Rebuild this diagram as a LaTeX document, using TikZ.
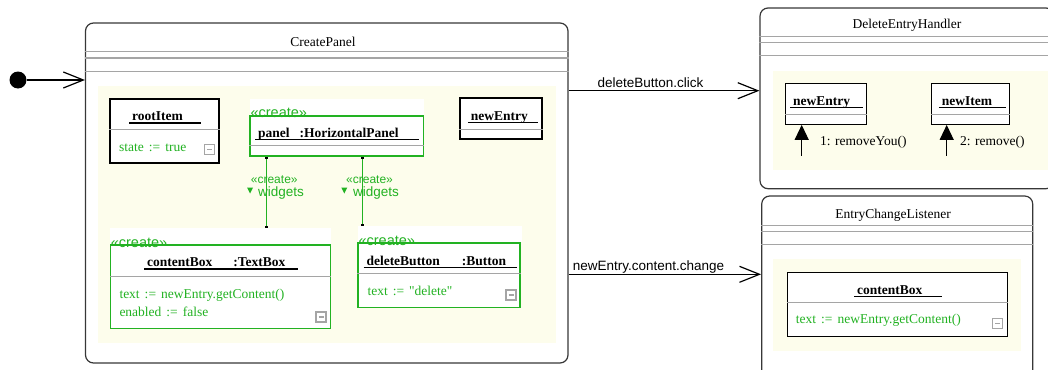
\documentclass[tikz,border=0pt]{standalone}
\usepackage{fontspec}
\setmainfont{Liberation Serif}
\setsansfont{Liberation Sans}
\usetikzlibrary{arrows.meta,calc}
\definecolor{umlgreen}{RGB}{34,178,34}
\definecolor{regionfill}{RGB}{253,253,236}
\definecolor{compgray}{RGB}{165,165,165}
\definecolor{framegray}{RGB}{55,55,55}
\newcommand{\objname}[2]{\rlap{\rule[-3pt]{#2}{1.3pt}}\hspace{3pt}\textbf{#1}}
\newcommand{\assign}{\hspace{5pt}:=\hspace{5pt}}
\tikzset{
  statebox/.style={draw=framegray, line width=1.2pt, rounded corners=8pt, inner sep=0pt},
  compline/.style={draw=compgray, line width=1pt},
  objbox/.style={draw=black, fill=white, line width=1.2pt, inner sep=0pt},
  newobj/.style={draw=umlgreen, fill=white, line width=1.2pt, inner sep=0pt},
  headbg/.style={fill=white, inner sep=0pt, anchor=south west, minimum height=16.5pt},
  statename/.style={font=\fontsize{13.5}{16}\selectfont, inner sep=0pt, anchor=base},
  objtitle/.style={font=\fontsize{13.5}{16}\selectfont, inner sep=0pt, anchor=base west},
  attr/.style={font=\fontsize{13.5}{16}\selectfont, text=umlgreen, inner sep=0pt, anchor=base west},
  stereo/.style={font=\sffamily\fontsize{14.5}{16}\selectfont, text=umlgreen, inner sep=0pt, anchor=base west},
  linkstereo/.style={font=\sffamily\fontsize{12}{14}\selectfont, text=umlgreen, inner sep=0pt, anchor=base west},
  rolename/.style={font=\sffamily\fontsize{13.5}{16}\selectfont, text=umlgreen, inner sep=0pt, anchor=base west},
  event/.style={font=\sffamily\fontsize{13.5}{16}\selectfont, inner sep=0pt, anchor=base west},
  msg/.style={font=\fontsize{13.5}{16}\selectfont, inner sep=0pt, anchor=base west},
  transition/.style={-{Straight Barb[length=20pt,width=16pt]}, line width=1.2pt},
  link/.style={draw=umlgreen, line width=1.5pt, {Square[length=2pt,width=3.5pt,black]}-{Square[length=2pt,width=3.5pt,black]}},
  call/.style={-{Triangle[length=15pt,width=14pt]}, line width=1.2pt},
  fold/.pic={
    \draw[compgray, line width=1.5pt] (-5,-5) rectangle (5,5);
    \draw[compgray, line width=1.5pt] (-2.5,0) -- (2.5,0);
  }
}
\begin{document}
\begin{tikzpicture}[x=1pt,y=-1pt]
  \useasboundingbox (0,0) rectangle (1048,369);
  \clip (0,0) rectangle (1048,369);
  % states
  \node[statebox, minimum width=482.5pt, minimum height=340pt] (createpanel) at (326.75,193) {};
  \node[statebox, minimum width=294pt, minimum height=180.7pt] (deletehandler) at (907,98.35) {};
  \node[statebox, minimum width=271pt, minimum height=189pt] (changelistener) at (897.2,290.5) {};
  \node[statename] at (323,46) {CreatePanel};
  \node[statename] at (907,29) {DeleteEntryHandler};
  \node[statename] at (893,218) {EntryChangeListener};
  \foreach \y in {52,58,71}
    \draw[compline] (createpanel.west |- 0,\y) -- (createpanel.east |- 0,\y);
  \foreach \y in {37,43,56}
    \draw[compline] (deletehandler.west |- 0,\y) -- (deletehandler.east |- 0,\y);
  \foreach \y in {225.7,231.7,244.3}
    \draw[compline] (changelistener.west |- 0,\y) -- (changelistener.east |- 0,\y);
  % regions
  \fill[regionfill] (98,86) rectangle (556,343);
  \fill[regionfill] (773,70.7) rectangle (1050,169.7);
  \fill[regionfill] (773,259.3) rectangle (1020.7,351.3);
  % initial
  \node[circle, fill=black, inner sep=0pt, minimum size=17pt] (init) at (18,80) {};
  \draw[transition] (init) -- (createpanel.west |- init);

  % CreatePanel objects
  \node[objbox, minimum width=109pt, minimum height=64pt] (rootitem) at (164.5,131) {};
  \draw[compline] (rootitem.west |- 0,129) -- (rootitem.east |- 0,129);
  \node[objtitle] at (129,120.5) {\objname{rootItem}{72pt}};
  \node[attr] at (119,151) {state\assign true};
  \pic at (209.5,149.5) {fold};

  \node[newobj, minimum width=173.5pt, minimum height=40pt] (panel) at (336.75,136) {};
  \node[headbg, minimum width=174pt] (panelhead) at (panel.north west) {};
  \draw[compline] (panel.west |- 0,145.7) -- (panel.east |- 0,145.7);
  \node[stereo] at ($(panel.north west)+(1,2.5)$) {«create»};
  \node[objtitle] at (255,137) {\objname{panel\hspace{10pt}:HorizontalPanel}{164pt}};

  \node[objbox, minimum width=82pt, minimum height=41pt] (newentry) at (501,118.5) {};
  \draw[compline] (newentry.west |- 0,129) -- (newentry.east |- 0,129);
  \node[objtitle] at (467.7,120) {\objname{newEntry}{70pt}};

  \node[newobj, minimum width=220pt, minimum height=83.7pt] (contentbox) at (220.7,286.85) {};
  \node[headbg, minimum width=221pt] (cbhead) at (contentbox.north west) {};
  \draw[compline] (contentbox.west |- 0,276) -- (contentbox.east |- 0,276);
  \node[stereo] at ($(contentbox.north west)+(0.5,3.3)$) {«create»};
  \node[objtitle] at (144,266.7) {\objname{contentBox\hspace{21pt}:TextBox}{154pt}};
  \node[attr] at (119.3,298.3) {text\assign newEntry.getContent()};
  \node[attr] at (119.3,316.7) {enabled\assign false};
  \pic at (321,317) {fold};

  \node[newobj, minimum width=162pt, minimum height=64.7pt] (deletebutton) at (439,275.35) {};
  \node[headbg, minimum width=164pt] (dbhead) at (deletebutton.north west) {};
  \draw[compline] (deletebutton.west |- 0,273) -- (deletebutton.east |- 0,273);
  \node[stereo] at ($(deletebutton.north west)+(1,3.5)$) {«create»};
  \node[objtitle] at (363.3,265) {\objname{deleteButton\hspace{22pt}:Button}{153.4pt}};
  \node[attr] at (367.3,295) {\addfontfeature{Ligatures=TeXOff}text\assign "delete"};
  \pic at (511,295) {fold};

  % links
  \coordinate (w1) at (266.7,0);
  \coordinate (w2) at (362.3,0);
  \draw[link] (panel.south -| w1) -- (cbhead.north -| w1);
  \draw[link] (panel.south -| w2) -- (dbhead.north -| w2);
  \node[linkstereo] at (250.7,183.3) {«create»};
  \node[rolename] at (258,196.7) {widgets};
  \fill[umlgreen] (247,187.5) -- (253,187.5) -- (250,193.5) -- cycle;
  \node[linkstereo] at (346,183.3) {«create»};
  \node[rolename] at (353,196.7) {widgets};
  \fill[umlgreen] (341.3,187.5) -- (347.3,187.5) -- (344.3,193.5) -- cycle;

  % DeleteEntryHandler objects
  \node[objbox, minimum width=81pt, minimum height=41pt] (dehentry) at (826.2,103.8) {};
  \draw[compline] (dehentry.west |- 0,114.7) -- (dehentry.east |- 0,114.7);
  \node[objtitle] at (790,105) {\objname{newEntry}{72.7pt}};
  \node[objbox, minimum width=78pt, minimum height=41pt] (newitem) at (970.7,103.8) {};
  \draw[compline] (newitem.west |- 0,114.7) -- (newitem.east |- 0,114.7);
  \node[objtitle] at (938.7,105) {\objname{newItem}{67pt}};
  \coordinate (c1) at (801.7,155.7);
  \coordinate (c2) at (946.7,155.7);
  \draw[call] (c1) -- (dehentry.south -| c1);
  \draw[call] (c2) -- (newitem.south -| c2);
  \node[msg] at (820,145.5) {1: removeYou()};
  \node[msg] at (960,145.5) {2: remove()};

  % EntryChangeListener objects
  \node[objbox, minimum width=220pt, minimum height=63.6pt] (eclbox) at (897.3,304.5) {};
  \draw[compline] (eclbox.west |- 0,302.7) -- (eclbox.east |- 0,302.7);
  \node[objtitle] at (854,294) {\objname{contentBox}{87.7pt}};
  \node[attr] at (795.7,323.3) {text\assign newEntry.getContent()};
  \pic at (997.7,323.3) {fold};

  % transitions
  \coordinate (e1) at (0,90.7);
  \coordinate (e2) at (0,274.3);
  \draw[transition] (createpanel.east |- e1) -- (deletehandler.west |- e1);
  \draw[transition] (createpanel.east |- e2) -- (changelistener.west |- e2);
  \node[event] at (597.3,87) {deleteButton.click};
  \node[event] at (572.7,270) {newEntry.content.change};
\end{tikzpicture}
\end{document}
